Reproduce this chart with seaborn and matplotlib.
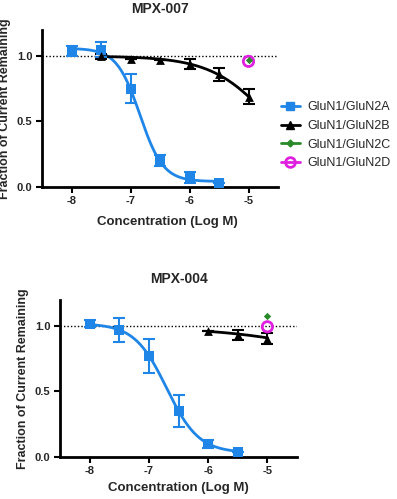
import numpy as np
import pandas as pd
import matplotlib
matplotlib.use("Agg")
import matplotlib.pyplot as plt
import seaborn as sns
from matplotlib.lines import Line2D

# ---------------- data ----------------
# MPX-007
a007_x = [-8.0, -7.5, -7.0, -6.5, -6.0, -5.5]
a007_y = [1.04, 1.05, 0.75, 0.20, 0.07, 0.03]
a007_err = [0.04, 0.06, 0.11, 0.04, 0.04, 0.0]
b007_x = [-7.5, -7.0, -6.5, -6.0, -5.5, -5.0]
b007_y = [1.00, 0.98, 0.97, 0.94, 0.86, 0.69]
b007_err = [0.02, 0.0, 0.0, 0.04, 0.05, 0.06]
c007_x = [-5.0]
c007_y = [0.97]
d007_x = [-5.0]
d007_y = [0.96]
# fitted curve parameters (top, bottom, logIC50, hill)
a007_fit = (1.06, 0.04, -6.84, 2.2)
b007_fit = (1.00, 0.00, -4.59, 0.85)

# MPX-004
a004_x = [-8.0, -7.5, -7.0, -6.5, -6.0, -5.5]
a004_y = [1.02, 0.97, 0.77, 0.35, 0.10, 0.035]
a004_err = [0.03, 0.09, 0.13, 0.125, 0.03, 0.0]
b004_x = [-6.0, -5.5, -5.0]
b004_y = [0.96, 0.93, 0.905]
b004_err = [0.0, 0.04, 0.045]
c004_x = [-5.0]
c004_y = [1.08]
d004_x = [-5.0]
d004_y = [0.995]
a004_fit = (1.02, 0.03, -6.70, 1.6)
b004_fit = (1.00, 0.00, -2.32, 0.375)

labels = ["GluN1/GluN2A", "GluN1/GluN2B", "GluN1/GluN2C", "GluN1/GluN2D"]
xticks = [-8, -7, -6, -5]
xticklabels = ["-8", "-7", "-6", "-5"]
yticks = [0.0, 0.5, 1.0]
yticklabels = ["0.0", "0.5", "1.0"]

BLUE = "#1f86e8"
BLACK = "#000000"
GREEN = "#2a8a2a"
MAGENTA = "#e020e0"

sns.set_style("ticks")
plt.rcParams["font.family"] = ["Liberation Sans", "DejaVu Sans"]

W, H = 397, 499
fig = plt.figure(figsize=(W / 100, H / 100), dpi=100)


def px_axes(left, right, top, bottom):
    return fig.add_axes([left / W, 1 - bottom / H, (right - left) / W, (bottom - top) / H])


def logistic(x, p):
    top, bot, c, h = p
    return bot + (top - bot) / (1 + 10 ** ((x - c) * h))


def draw(ax, title, A, B, C, D, xlab_pos, xlab_y):
    ax.axhline(1.0, color="black", ls=(0, (1, 1.5)), lw=1.0, zorder=1)
    # curves
    for (xs, p, col) in [(A[0], A[3], BLUE), (B[0], B[3], BLACK)]:
        xx = np.linspace(min(xs), max(xs), 200)
        df = pd.DataFrame({"x": xx, "y": logistic(xx, p)})
        sns.lineplot(data=df, x="x", y="y", ax=ax, color=col, lw=2.0, zorder=3)
    # error bars
    ax.errorbar(A[0], A[1], yerr=A[2], fmt="none", ecolor=BLUE, elinewidth=1.5,
                capsize=4.5, capthick=1.5, zorder=4)
    ax.errorbar(B[0], B[1], yerr=B[2], fmt="none", ecolor=BLACK, elinewidth=1.5,
                capsize=4.5, capthick=1.5, zorder=4)
    # markers
    sns.scatterplot(x=A[0], y=A[1], ax=ax, marker="s", s=60, color=BLUE,
                    edgecolor=BLUE, linewidth=0, zorder=5)
    sns.scatterplot(x=B[0], y=B[1], ax=ax, marker="^", s=40, color=BLACK,
                    edgecolor=BLACK, linewidth=0, zorder=5)
    sns.scatterplot(x=D[0], y=D[1], ax=ax, marker="o", s=55, facecolor="none",
                    edgecolor=MAGENTA, linewidth=2.0, zorder=6)
    sns.scatterplot(x=C[0], y=C[1], ax=ax, marker="D", s=14, color=GREEN,
                    edgecolor=GREEN, linewidth=0, zorder=7)
    ax.set_xlim(-8.5, -4.5)
    ax.set_ylim(0, 1.2)
    ax.set_xticks(xticks)
    ax.set_xticklabels(xticklabels)
    ax.set_yticks(yticks)
    ax.set_yticklabels(yticklabels)
    for lab in ax.get_xticklabels() + ax.get_yticklabels():
        lab.set_fontweight("bold")
        lab.set_fontsize(8)
    ax.tick_params(direction="out", length=4, width=1.5, pad=3, color="black")
    for s in ["left", "bottom"]:
        ax.spines[s].set_linewidth(2.0)
        ax.spines[s].set_color("black")
    sns.despine(ax=ax)
    ax.set_title(title, fontsize=10, fontweight="bold", pad=12)
    ax.set_xlabel("Concentration (Log M)", fontsize=9.5, fontweight="bold")
    ax.set_ylabel("Fraction of Current Remaining", fontsize=9, fontweight="bold")
    ax.xaxis.set_label_coords(xlab_pos, xlab_y)
    ax.yaxis.set_label_coords(-0.13, 0.5)


ax1 = px_axes(42, 278, 30, 186.7)
draw(ax1, "MPX-007",
     (a007_x, a007_y, a007_err, a007_fit),
     (b007_x, b007_y, b007_err, b007_fit),
     (c007_x, c007_y), (d007_x, d007_y), 0.532, -0.185)

ax2 = px_axes(60, 297, 300, 456.7)
draw(ax2, "MPX-004",
     (a004_x, a004_y, a004_err, a004_fit),
     (b004_x, b004_y, b004_err, b004_fit),
     (c004_x, c004_y), (d004_x, d004_y), 0.5, -0.16)

# legend
handles = [
    Line2D([], [], color=BLUE, lw=2, marker="s", ms=6, mec=BLUE),
    Line2D([], [], color=BLACK, lw=2, marker="^", ms=5.5, mec=BLACK),
    Line2D([], [], color=GREEN, lw=2, marker="D", ms=3.5, mec=GREEN),
    Line2D([], [], color=MAGENTA, lw=2, marker="o", ms=7, mfc="none", mec=MAGENTA, mew=2),
]
fig.legend(handles, labels, loc="upper left", bbox_to_anchor=(281 / W, 1 - 101.5 / H),
           frameon=False, fontsize=9, handlelength=1.5, handletextpad=0.65,
           labelspacing=0.52, borderpad=0, borderaxespad=0)

fig.savefig("out.png", dpi=100)
